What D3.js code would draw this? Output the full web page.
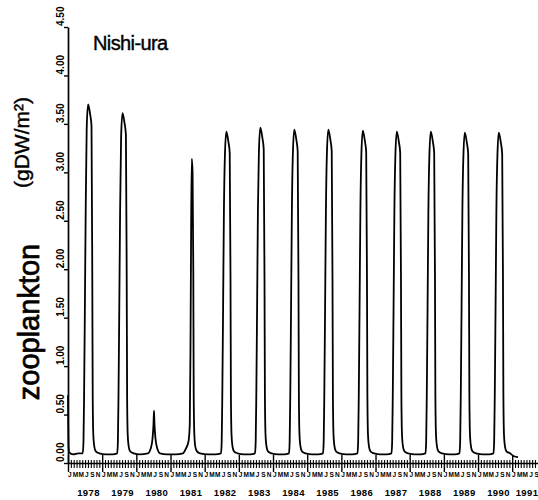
<!DOCTYPE html>
<html>
<head>
<meta charset="utf-8">
<script src="https://cdn.jsdelivr.net/npm/d3@7"></script>
<style>
  html, body { margin: 0; padding: 0; background: #fff; }
  svg { display: block; }
</style>
</head>
<body>
<svg id="chart" width="538" height="500"></svg>
<script>
// Station and axis labels
const stationName = "Nishi-ura";
const quantityLabel = "zooplankton";
const unitLabel = "(gDW/m²)";

// Calendar years along the time axis
const yearLabels = [1978, 1979, 1980, 1981, 1982, 1983, 1984, 1985, 1986, 1987, 1988, 1989, 1990, 1991];
// Bimonthly month initials printed under each year
const monthLetters = ["J", "M", "M", "J", "S", "N"];
// Biomass axis ticks
const yTicks = [0, 0.5, 1.0, 1.5, 2.0, 2.5, 3.0, 3.5, 4.0, 4.5];

// Simulated zooplankton biomass: sample time (decimal year) and value (gDW/m²)
const sampleYear = [
  1978.000, 1978.006, 1978.015, 1978.030, 1978.150, 1978.300, 1978.433, 1978.453, 1978.471, 1978.494, 1978.518, 1978.547, 1978.588, 1978.647, 1978.688, 1978.711, 1978.723, 1978.740, 1978.770, 1978.813, 1978.916,
  1979.100, 1979.300, 1979.440, 1979.460, 1979.478, 1979.501, 1979.525, 1979.554, 1979.595, 1979.654, 1979.695, 1979.718, 1979.730, 1979.747, 1979.777, 1979.820, 1979.923,
  1980.100, 1980.341, 1980.429, 1980.473, 1980.502, 1980.517, 1980.531, 1980.561, 1980.605, 1980.692, 1980.900,
  1981.150, 1981.366, 1981.453, 1981.526, 1981.564, 1981.585, 1981.605, 1981.623, 1981.646, 1981.667, 1981.679, 1981.697, 1981.726, 1981.775, 1981.863,
  1982.100, 1982.300, 1982.478, 1982.498, 1982.516, 1982.539, 1982.563, 1982.592, 1982.633, 1982.692, 1982.733, 1982.756, 1982.768, 1982.785, 1982.815, 1982.858, 1982.961,
  1983.150, 1983.330, 1983.473, 1983.493, 1983.511, 1983.534, 1983.558, 1983.587, 1983.628, 1983.687, 1983.728, 1983.751, 1983.763, 1983.780, 1983.810, 1983.853, 1983.956,
  1984.150, 1984.320, 1984.467, 1984.487, 1984.505, 1984.528, 1984.552, 1984.581, 1984.622, 1984.681, 1984.722, 1984.745, 1984.757, 1984.774, 1984.804, 1984.847, 1984.950,
  1985.150, 1985.320, 1985.463, 1985.483, 1985.501, 1985.524, 1985.548, 1985.577, 1985.618, 1985.677, 1985.718, 1985.741, 1985.753, 1985.770, 1985.800, 1985.843, 1985.946,
  1986.150, 1986.320, 1986.472, 1986.492, 1986.510, 1986.533, 1986.557, 1986.586, 1986.627, 1986.686, 1986.727, 1986.750, 1986.762, 1986.779, 1986.809, 1986.852, 1986.955,
  1987.150, 1987.320, 1987.467, 1987.487, 1987.505, 1987.528, 1987.552, 1987.581, 1987.622, 1987.681, 1987.722, 1987.745, 1987.757, 1987.774, 1987.804, 1987.847, 1987.950,
  1988.150, 1988.320, 1988.462, 1988.482, 1988.500, 1988.523, 1988.547, 1988.576, 1988.617, 1988.676, 1988.717, 1988.740, 1988.752, 1988.769, 1988.799, 1988.842, 1988.945,
  1989.150, 1989.320, 1989.457, 1989.477, 1989.495, 1989.518, 1989.542, 1989.571, 1989.612, 1989.671, 1989.712, 1989.735, 1989.747, 1989.764, 1989.794, 1989.837, 1989.940,
  1990.150, 1990.320, 1990.452, 1990.472, 1990.490, 1990.513, 1990.537, 1990.566, 1990.607, 1990.666, 1990.707, 1990.730, 1990.742, 1990.759, 1990.789, 1990.832, 1990.935,
  1991.050, 1991.170
];
const biomass = [
  0.70, 0.40, 0.18, 0.11, 0.09, 0.10, 0.10, 0.22, 0.70, 1.60, 2.60, 3.45, 3.70, 3.60, 3.48, 1.90, 0.70, 0.30, 0.17, 0.12, 0.10,
  0.09, 0.09, 0.10, 0.22, 0.70, 1.60, 2.60, 3.36, 3.61, 3.51, 3.39, 1.90, 0.70, 0.30, 0.17, 0.12, 0.10,
  0.09, 0.10, 0.16, 0.25, 0.40, 0.54, 0.40, 0.25, 0.16, 0.10, 0.09,
  0.09, 0.10, 0.15, 0.22, 0.40, 1.20, 2.50, 3.14, 3.00, 2.00, 0.70, 0.30, 0.17, 0.12, 0.10,
  0.09, 0.09, 0.10, 0.22, 0.70, 1.60, 2.60, 3.17, 3.42, 3.32, 3.20, 1.90, 0.70, 0.30, 0.17, 0.12, 0.10,
  0.09, 0.09, 0.10, 0.22, 0.70, 1.60, 2.60, 3.21, 3.46, 3.36, 3.24, 1.90, 0.70, 0.30, 0.17, 0.12, 0.10,
  0.09, 0.09, 0.10, 0.22, 0.70, 1.60, 2.60, 3.19, 3.44, 3.34, 3.22, 1.90, 0.70, 0.30, 0.17, 0.12, 0.10,
  0.09, 0.09, 0.10, 0.22, 0.70, 1.60, 2.60, 3.19, 3.44, 3.34, 3.22, 1.90, 0.70, 0.30, 0.17, 0.12, 0.10,
  0.09, 0.09, 0.10, 0.22, 0.70, 1.60, 2.60, 3.18, 3.43, 3.33, 3.21, 1.90, 0.70, 0.30, 0.17, 0.12, 0.10,
  0.09, 0.09, 0.10, 0.22, 0.70, 1.60, 2.60, 3.17, 3.42, 3.32, 3.20, 1.90, 0.70, 0.30, 0.17, 0.12, 0.10,
  0.09, 0.09, 0.10, 0.22, 0.70, 1.60, 2.60, 3.17, 3.42, 3.32, 3.20, 1.90, 0.70, 0.30, 0.17, 0.12, 0.10,
  0.09, 0.09, 0.10, 0.22, 0.70, 1.60, 2.60, 3.16, 3.41, 3.31, 3.19, 1.90, 0.70, 0.30, 0.17, 0.12, 0.10,
  0.09, 0.09, 0.10, 0.22, 0.70, 1.60, 2.60, 3.16, 3.41, 3.31, 3.19, 1.90, 0.70, 0.30, 0.17, 0.12, 0.10,
  0.07, 0.06
];

const svg = d3.select("#chart");
const narrow = "'Liberation Sans Narrow', 'Liberation Sans', Arial, sans-serif";
const sans = "'Liberation Sans', Arial, sans-serif";

// Time axis runs off the right edge of the figure
const x = d3.scaleLinear().domain([1978, 1991.755]).range([68, 538]);
const y = d3.scaleLinear().domain([0, 4.5]).range([463, 27]);

// ---- time axis: monthly minor ticks, yearly major ticks ----
const monthTicks = [];
yearLabels.forEach(yr => {
  for (let m = 1; m < 12; m++) {
    const t = yr + m / 12;
    if (t < 1991.75) monthTicks.push(t);
  }
});

const gMinor = svg.append("g").attr("transform", "translate(0,463)")
  .call(d3.axisBottom(x).tickValues(monthTicks).tickSizeInner(5).tickSizeOuter(0).tickFormat(""));
gMinor.select(".domain").attr("stroke", "#000").attr("stroke-width", 1.7);
gMinor.selectAll(".tick line").attr("y1", -3).attr("stroke", "#000").attr("stroke-width", 1.1);

const gMajor = svg.append("g").attr("transform", "translate(0,463)")
  .call(d3.axisBottom(x).tickValues(yearLabels).tickSizeInner(9).tickSizeOuter(0).tickFormat(""));
gMajor.select(".domain").remove();
gMajor.selectAll(".tick line").attr("y1", -8).attr("stroke", "#000").attr("stroke-width", 1.4);

// month initials
const letterData = [];
yearLabels.forEach(yr => monthLetters.forEach((l, i) => {
  const t = yr + (2 * i + 0.6) / 12;
  if (t < 1991.74) letterData.push({ t, l });
}));
svg.append("g").selectAll("text").data(letterData).join("text")
  .attr("x", d => x(d.t)).attr("y", 476.5)
  .attr("text-anchor", "middle")
  .style("font-family", narrow).style("font-size", "6.5px").style("font-weight", "bold")
  .text(d => d.l);

// year labels; the last one is kept inside the right edge
svg.append("g").selectAll("text").data(yearLabels).join("text")
  .attr("x", d => Math.min(x(d + 0.6), 527))
  .attr("y", 496)
  .attr("text-anchor", "middle")
  .style("font-family", narrow).style("font-size", "9.5px").style("font-weight", "bold")
  .style("letter-spacing", "0.4px")
  .text(d => d);

// ---- biomass axis with rotated labels ----
const gy = svg.append("g").attr("transform", "translate(68,0)")
  .call(d3.axisLeft(y).tickValues(yTicks).tickSizeInner(4).tickSizeOuter(0).tickFormat(d3.format(".2f")));
gy.select(".domain").attr("stroke", "#000").attr("stroke-width", 1.7);
gy.selectAll(".tick line").attr("stroke", "#000").attr("stroke-width", 1.4);
gy.selectAll(".tick text")
  .attr("x", null).attr("dy", null)
  .attr("text-anchor", "start")
  .attr("transform", "translate(-4.5,-1.5) rotate(-90)")
  .style("font-family", narrow).style("font-size", "10px").style("font-weight", "bold")
  .attr("fill", "#000");

// ---- biomass curve ----
const series = sampleYear.map((t, i) => ({ t, v: biomass[i] }));
const line = d3.line()
  .x(d => x(d.t))
  .y(d => y(d.v))
  .curve(d3.curveMonotoneX);
svg.append("path")
  .datum(series)
  .attr("d", line)
  .attr("fill", "none")
  .attr("stroke", "#000")
  .attr("stroke-width", 1.8)
  .attr("stroke-linejoin", "round");

// ---- titles ----
svg.append("text")
  .attr("x", 93).attr("y", 50)
  .style("font-family", sans).style("font-size", "20px")
  .style("letter-spacing", "-0.6px")
  .attr("stroke", "#000").attr("stroke-width", 0.4)
  .text(stationName);

svg.append("text")
  .attr("transform", "translate(38.5,322) rotate(-90)")
  .attr("text-anchor", "middle")
  .style("font-family", sans).style("font-size", "29px")
  .attr("stroke", "#000").attr("stroke-width", 0.7)
  .text(quantityLabel);

svg.append("text")
  .attr("transform", "translate(28.5,142.5) rotate(-90)")
  .attr("text-anchor", "middle")
  .style("font-family", sans).style("font-size", "21px")
  .attr("stroke", "#000").attr("stroke-width", 0.4)
  .text(unitLabel);
</script>
</body>
</html>
